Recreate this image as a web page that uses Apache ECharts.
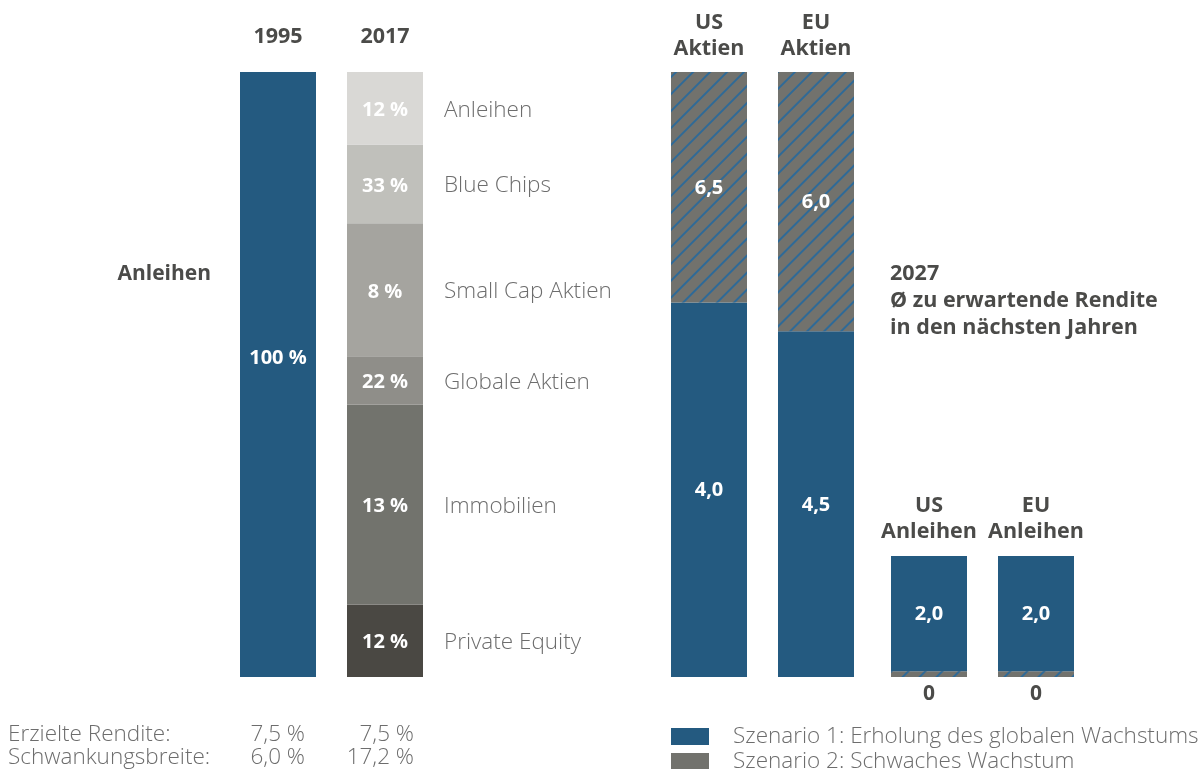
<!DOCTYPE html>
<html>
<head>
<meta charset="utf-8">
<script src="https://cdn.jsdelivr.net/npm/echarts@6/dist/echarts.min.js"></script>
<style>
  html, body { margin: 0; padding: 0; background: #fff; }
  #chart { width: 1203px; height: 769px; }
</style>
</head>
<body>
<div id="chart"></div>
<script>
// left panel: asset allocation
const years = ['1995', '2017']
const share1995 = [100]
const label1995 = '100 %'
// 2017 segments, bottom to top (heights as drawn, labels as printed)
const segNames = ['Private Equity', 'Immobilien', 'Globale Aktien', 'Small Cap Aktien', 'Blue Chips', 'Anleihen']
const segHeights = [12, 33, 8, 22, 13, 12]
const segLabels = ['12 %', '13 %', '22 %', '8 %', '33 %', '12 %']
const segColors = ['#4a4843', '#72736d', '#8f8e89', '#a5a49f', '#c0c0bb', '#d9d8d5']
const rendite = ['7,5 %', '7,5 %']
const schwankung = ['6,0 %', '17,2 %']

// right panel: expected returns 2027
const aktienCats = ['US\nAktien', 'EU\nAktien']
const aktienS1 = [6.5, 6.0]
const aktienS2 = [4.0, 4.5]
const aktienS1Labels = ['4,0', '4,5']
const aktienS2Labels = ['6,5', '6,0']
const anleihenCats = ['US\nAnleihen', 'EU\nAnleihen']
const anleihenS1 = [2.0, 2.0]
const anleihenS2 = [0.1, 0.1]
const anleihenS1Labels = ['2,0', '2,0']
const anleihenS2Labels = ['0', '0']

const S1 = 'Szenario 1: Erholung des globalen Wachstums'
const S2 = 'Szenario 2: Schwaches Wachstum'

const FONT = 'Open Sans'
const BLUE = '#245a80'
const GREY = '#72726d'
const DARK = '#4b4b49'
const LIGHT = '#6d6d6d'

const hatch = {
  symbol: 'rect',
  symbolSize: 1,
  color: '#2f6a97',
  dashArrayX: [1, 0],
  dashArrayY: [1.2, 9.4],
  rotation: -Math.PI / 4
}

const whiteLabel = {
  show: true,
  color: '#fff',
  fontFamily: FONT,
  fontWeight: 'bold',
  fontSize: 20
}

const chart = echarts.init(document.getElementById('chart'))

const series = []

// 1995
series.push({
  type: 'bar', xAxisIndex: 0, yAxisIndex: 0, stack: 'left', barWidth: 76,
  data: [share1995[0], '-'],
  itemStyle: { color: BLUE },
  label: Object.assign({}, whiteLabel, { position: 'inside', offset: [0, -16], formatter: label1995 })
})

// 2017
segNames.forEach((n, i) => {
  series.push({
    type: 'bar', xAxisIndex: 0, yAxisIndex: 0, stack: 'left', barWidth: 76,
    name: n,
    data: ['-', segHeights[i]],
    itemStyle: { color: segColors[i] },
    label: {
      show: true,
      position: [0, '50%'],
      offset: [0, 2],
      align: 'left',
      verticalAlign: 'middle',
      formatter: '{p|' + segLabels[i] + '}{n|' + n + '}',
      rich: {
        p: { width: 76, align: 'center', color: '#fff', fontFamily: FONT, fontWeight: 'bold', fontSize: 20 },
        n: { padding: [0, 0, 0, 21], color: LIGHT, fontFamily: FONT, fontSize: 22.5, fontWeight: 300 }
      }
    }
  })
})

// Aktien
series.push({
  type: 'bar', xAxisIndex: 1, yAxisIndex: 1, stack: 'akt', barWidth: 76, name: S1,
  data: aktienS1, itemStyle: { color: BLUE },
  label: Object.assign({}, whiteLabel, { position: 'inside', offset: [0, 1], formatter: p => aktienS1Labels[p.dataIndex] })
})
series.push({
  type: 'bar', xAxisIndex: 1, yAxisIndex: 1, stack: 'akt', barWidth: 76, name: S2,
  data: aktienS2, itemStyle: { color: GREY, decal: hatch },
  label: Object.assign({}, whiteLabel, { position: 'inside', offset: [0, 1], formatter: p => aktienS2Labels[p.dataIndex] })
})

// Anleihen (hatched sliver at the bottom)
series.push({
  type: 'bar', xAxisIndex: 2, yAxisIndex: 2, stack: 'anl', barWidth: 76, name: S2,
  data: anleihenS2, itemStyle: { color: GREY, decal: hatch },
  label: { show: true, position: 'bottom', distance: 7, color: DARK, fontFamily: FONT, fontWeight: 'bold', fontSize: 21,
    formatter: p => anleihenS2Labels[p.dataIndex] }
})
series.push({
  type: 'bar', xAxisIndex: 2, yAxisIndex: 2, stack: 'anl', barWidth: 76, name: S1,
  data: anleihenS1, itemStyle: { color: BLUE },
  label: Object.assign({}, whiteLabel, { position: 'inside', offset: [0, 1], formatter: p => anleihenS1Labels[p.dataIndex] })
})

const topAxis = (grid, data, margin) => ({
  type: 'category', gridIndex: grid, position: 'top', data: data,
  axisLine: { show: false }, axisTick: { show: false },
  axisLabel: { margin: margin, color: DARK, fontFamily: FONT, fontWeight: 'bold', fontSize: 21.5, lineHeight: 26, interval: 0 }
})
const valAxis = (grid, max) => ({
  type: 'value', gridIndex: grid, min: 0, max: max, show: false, splitLine: { show: false }
})

const legendFor = (name, top, extra) => ({
  orient: 'vertical', left: 671, top: top, padding: 0,
  itemWidth: 38, itemHeight: 17,
  selectedMode: false,
  textStyle: { color: LIGHT, fontFamily: FONT, fontSize: 22.5, fontWeight: 300, padding: [0, 0, 0, 19] },
  data: [Object.assign({ name: name, icon: 'rect' }, extra || {})]
})

const txt = (text, x, y, opt) => ({
  type: 'text', x: x, y: y,
  style: Object.assign({ text: text, fill: LIGHT, font: '300 22.5px "Open Sans"', verticalAlign: 'middle', align: 'left' }, opt || {})
})

chart.setOption({
  animation: false,
  backgroundColor: '#fff',
  textStyle: { fontFamily: FONT },
  grid: [
    { left: 224.5, width: 214, top: 72, height: 605 },
    { left: 655.5, width: 214, top: 72, height: 605 },
    { left: 875.5, width: 214, top: 556, height: 121 }
  ],
  xAxis: [
    topAxis(0, years, 22),
    topAxis(1, aktienCats, 10),
    topAxis(2, anleihenCats, 11)
  ],
  yAxis: [valAxis(0, 100), valAxis(1, 10.5), valAxis(2, 2.1)],
  legend: [
    legendFor(S1, 725),
    legendFor(S2, 750, { itemStyle: { decal: 'none' } })
  ],
  graphic: [
    txt('Anleihen', 211, 274, { fill: DARK, font: 'bold 21px "Open Sans"', align: 'right' }),
    txt('2027\nØ zu erwartende Rendite\nin den nächsten Jahren', 890, 301, { fill: DARK, font: 'bold 21.5px "Open Sans"', lineHeight: 27 }),
    txt('Erzielte Rendite:', 8, 735),
    txt('Schwankungsbreite:', 8, 758),
    txt(rendite[0], 305, 735, { align: 'right' }),
    txt(rendite[1], 414, 735, { align: 'right' }),
    txt(schwankung[0], 305, 758, { align: 'right' }),
    txt(schwankung[1], 414, 758, { align: 'right' })
  ],
  series: series
})
</script>
</body>
</html>
